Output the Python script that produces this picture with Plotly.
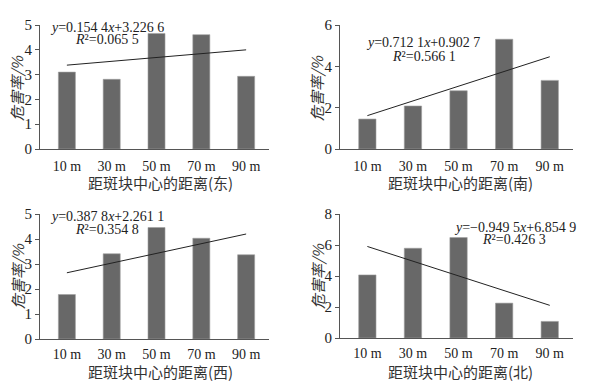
import plotly.graph_objects as go

categories = ["10 m", "30 m", "50 m", "70 m", "90 m"]
east = [3.10, 2.81, 4.66, 4.61, 2.93]
south = [1.45, 2.08, 2.82, 5.31, 3.32]
west = [1.78, 3.41, 4.46, 4.03, 3.37]
north = [4.07, 5.79, 6.48, 2.25, 1.07]

titles = ["距斑块中心的距离(东)", "距斑块中心的距离(南)", "距斑块中心的距离(西)", "距斑块中心的距离(北)"]
ytitle = "危害率/%"
slopes = [0.1544, 0.7121, 0.3878, -0.9495]
intercepts = [3.2266, 0.9027, 2.2611, 6.8549]
eq_text = ["<i>y</i>=0.154 4<i>x</i>+3.226 6", "<i>y</i>=0.712 1<i>x</i>+0.902 7",
           "<i>y</i>=0.387 8<i>x</i>+2.261 1", "<i>y</i>=−0.949 5<i>x</i>+6.854 9"]
r2_text = ["<i>R</i>²=0.065 5", "<i>R</i>²=0.566 1",
           "<i>R</i>²=0.354 8", "<i>R</i>²=0.426 3"]
ymax = [5, 6, 5, 8]
ydtick = [1, 2, 1, 2]
series = [east, south, west, north]

OFF = 8  # page body margin
W, H = 604 - OFF, 387 - OFF
# pixel boxes in window pixels: (x0, x1, ytop, ybottom)
boxes = [(40, 269, 25, 149), (340, 573, 25, 149), (40, 269, 214, 339), (340, 573, 214, 338)]
tick_standoff = [4, 4, 2, 2]
eq_pos = [((48, 27), (73, 40)), ((364, 43), (390, 56)), ((48, 216), (73, 229)), ((452, 227), (480, 239))]
xt_pos = [(160, 183), (460, 183), (160, 371), (460, 371)]
yt_pos = [(17, 88), (317, 88), (17, 276), (317, 276)]

serif = "Liberation Serif, Times New Roman, serif"
cjk = "Noto Sans CJK SC, sans-serif"


def px(x):
    return (x - OFF) / W


def py(y):
    return 1 - (y - OFF) / H


fig = go.Figure()
layout = dict(width=W, height=H, margin=dict(l=0, r=0, t=0, b=0, autoexpand=False),
              paper_bgcolor="white", plot_bgcolor="white", showlegend=False)
annotations = []
for i in range(4):
    n = "" if i == 0 else str(i + 1)
    xa, ya = "x" + n, "y" + n
    vals = series[i]
    fig.add_trace(go.Bar(x=categories, y=vals, xaxis=xa, yaxis=ya, width=0.38,
                         marker=dict(color="#686868", line=dict(color="#a0a0a0", width=0.6))))
    xs = list(range(1, 6))
    fig.add_trace(go.Scatter(x=categories, y=[slopes[i] * k + intercepts[i] for k in xs],
                             xaxis=xa, yaxis=ya, mode="lines",
                             line=dict(color="#222", width=1)))
    x0, x1, yt, yb = boxes[i]
    layout["xaxis" + n] = dict(domain=[px(x0), px(x1)], anchor=ya, type="category",
                               range=[-0.6, 4.51], showline=True, linecolor="#555", linewidth=1,
                               ticks="", showgrid=False, zeroline=False, automargin=False,
                               ticklabelstandoff=tick_standoff[i],
                               tickfont=dict(family=serif, size=14, color="#222"))
    layout["yaxis" + n] = dict(domain=[py(yb), py(yt)], anchor=xa,
                               range=[0, ymax[i]], dtick=ydtick[i], showline=True,
                               linecolor="#555", linewidth=1, ticks="outside", ticklen=4,
                               tickcolor="#555", showgrid=False, zeroline=False, automargin=False,
                               tickfont=dict(family=serif, size=15, color="#222"))
    (ex, ey), (rx, ry) = eq_pos[i]
    annotations.append(dict(text=eq_text[i], x=px(ex), y=py(ey), xref="paper", yref="paper",
                            xanchor="left", yanchor="middle", showarrow=False,
                            font=dict(family=serif, size=14, color="#222")))
    annotations.append(dict(text=r2_text[i], x=px(rx), y=py(ry), xref="paper", yref="paper",
                            xanchor="left", yanchor="middle", showarrow=False,
                            font=dict(family=serif, size=14, color="#222")))
    tx, ty = xt_pos[i]
    annotations.append(dict(text=titles[i], x=px(tx), y=py(ty), xref="paper", yref="paper",
                            xanchor="center", yanchor="middle", showarrow=False,
                            font=dict(family=cjk, size=15, color="#333")))
    vx, vy = yt_pos[i]
    annotations.append(dict(text="<i>" + ytitle + "</i>", x=px(vx), y=py(vy), xref="paper", yref="paper",
                            xanchor="center", yanchor="middle", showarrow=False, textangle=-90,
                            font=dict(family=cjk, size=15, color="#333")))
layout["annotations"] = annotations
fig.update_layout(**layout)
fig.write_html("out.html")
